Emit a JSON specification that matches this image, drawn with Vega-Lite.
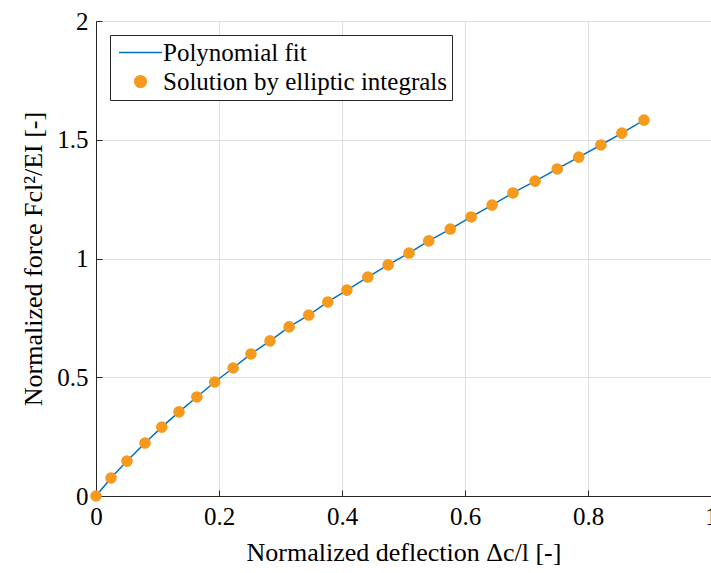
{
  "$schema": "https://vega.github.io/schema/vega-lite/v6.json",
  "width": 615,
  "height": 475,
  "autosize": {"type": "none"},
  "padding": {"left": 96, "top": 21, "right": 0, "bottom": 77},
  "background": "white",
  "config": {
    "view": {"stroke": null},
    "font": "Liberation Serif",
    "axis": {
      "gridColor": "#dedede",
      "gridWidth": 1,
      "domainColor": "#262626",
      "domainWidth": 1,
      "tickColor": "#262626",
      "tickSize": -6,
      "labelColor": "#000000",
      "titleColor": "#000000",
      "labelFont": "Liberation Serif",
      "titleFont": "Liberation Serif",
      "labelFontSize": 25,
      "titleFontSize": 26,
      "titleFontWeight": "normal",
      "labelOverlap": false,
      "labelFlush": false,
      "labelBound": false
    },
    "legend": {
      "orient": "top-left",
      "offset": 14,
      "strokeColor": "#262626",
      "fillColor": "white",
      "padding": 5,
      "labelFont": "Liberation Serif",
      "labelFontSize": 25,
      "labelColor": "#000000",
      "labelLimit": 500,
      "rowPadding": 3,
      "labelOffset": 10,
      "symbolOffset": 13,
      "symbolSize": 135,
      "symbolStrokeWidth": 1.5,
      "symbolOpacity": 1
    }
  },
  "datasets": {
    "fit": [
      {"x": 0, "y": 0, "series": "Polynomial fit"},
      {"x": 0.0244, "y": 0.0758, "series": "Polynomial fit"},
      {"x": 0.0504, "y": 0.147, "series": "Polynomial fit"},
      {"x": 0.0797, "y": 0.223, "series": "Polynomial fit"},
      {"x": 0.107, "y": 0.29, "series": "Polynomial fit"},
      {"x": 0.135, "y": 0.354, "series": "Polynomial fit"},
      {"x": 0.164, "y": 0.417, "series": "Polynomial fit"},
      {"x": 0.193, "y": 0.48, "series": "Polynomial fit"},
      {"x": 0.223, "y": 0.539, "series": "Polynomial fit"},
      {"x": 0.252, "y": 0.598, "series": "Polynomial fit"},
      {"x": 0.283, "y": 0.653, "series": "Polynomial fit"},
      {"x": 0.314, "y": 0.712, "series": "Polynomial fit"},
      {"x": 0.346, "y": 0.762, "series": "Polynomial fit"},
      {"x": 0.377, "y": 0.817, "series": "Polynomial fit"},
      {"x": 0.408, "y": 0.867, "series": "Polynomial fit"},
      {"x": 0.442, "y": 0.922, "series": "Polynomial fit"},
      {"x": 0.475, "y": 0.973, "series": "Polynomial fit"},
      {"x": 0.509, "y": 1.023, "series": "Polynomial fit"},
      {"x": 0.541, "y": 1.074, "series": "Polynomial fit"},
      {"x": 0.576, "y": 1.124, "series": "Polynomial fit"},
      {"x": 0.61, "y": 1.175, "series": "Polynomial fit"},
      {"x": 0.644, "y": 1.225, "series": "Polynomial fit"},
      {"x": 0.678, "y": 1.276, "series": "Polynomial fit"},
      {"x": 0.714, "y": 1.326, "series": "Polynomial fit"},
      {"x": 0.75, "y": 1.377, "series": "Polynomial fit"},
      {"x": 0.785, "y": 1.427, "series": "Polynomial fit"},
      {"x": 0.821, "y": 1.478, "series": "Polynomial fit"},
      {"x": 0.855, "y": 1.528, "series": "Polynomial fit"},
      {"x": 0.891, "y": 1.583, "series": "Polynomial fit"},
      {"x": 0.897, "y": 1.592, "series": "Polynomial fit"}
    ],
    "pts": [
      {"x": 0, "y": 0, "series": "Solution by elliptic integrals"},
      {"x": 0.0244, "y": 0.0758, "series": "Solution by elliptic integrals"},
      {"x": 0.0504, "y": 0.147, "series": "Solution by elliptic integrals"},
      {"x": 0.0797, "y": 0.223, "series": "Solution by elliptic integrals"},
      {"x": 0.107, "y": 0.29, "series": "Solution by elliptic integrals"},
      {"x": 0.135, "y": 0.354, "series": "Solution by elliptic integrals"},
      {"x": 0.164, "y": 0.417, "series": "Solution by elliptic integrals"},
      {"x": 0.193, "y": 0.48, "series": "Solution by elliptic integrals"},
      {"x": 0.223, "y": 0.539, "series": "Solution by elliptic integrals"},
      {"x": 0.252, "y": 0.598, "series": "Solution by elliptic integrals"},
      {"x": 0.283, "y": 0.653, "series": "Solution by elliptic integrals"},
      {"x": 0.314, "y": 0.712, "series": "Solution by elliptic integrals"},
      {"x": 0.346, "y": 0.762, "series": "Solution by elliptic integrals"},
      {"x": 0.377, "y": 0.817, "series": "Solution by elliptic integrals"},
      {"x": 0.408, "y": 0.867, "series": "Solution by elliptic integrals"},
      {"x": 0.442, "y": 0.922, "series": "Solution by elliptic integrals"},
      {"x": 0.475, "y": 0.973, "series": "Solution by elliptic integrals"},
      {"x": 0.509, "y": 1.023, "series": "Solution by elliptic integrals"},
      {"x": 0.541, "y": 1.074, "series": "Solution by elliptic integrals"},
      {"x": 0.576, "y": 1.124, "series": "Solution by elliptic integrals"},
      {"x": 0.61, "y": 1.175, "series": "Solution by elliptic integrals"},
      {"x": 0.644, "y": 1.225, "series": "Solution by elliptic integrals"},
      {"x": 0.678, "y": 1.276, "series": "Solution by elliptic integrals"},
      {"x": 0.714, "y": 1.326, "series": "Solution by elliptic integrals"},
      {"x": 0.75, "y": 1.377, "series": "Solution by elliptic integrals"},
      {"x": 0.785, "y": 1.427, "series": "Solution by elliptic integrals"},
      {"x": 0.821, "y": 1.478, "series": "Solution by elliptic integrals"},
      {"x": 0.855, "y": 1.528, "series": "Solution by elliptic integrals"},
      {"x": 0.891, "y": 1.583, "series": "Solution by elliptic integrals"}
    ]
  },
  "encoding": {
    "x": {
      "field": "x", "type": "quantitative",
      "scale": {"domain": [0, 1], "nice": false, "zero": false},
      "axis": {"values": [0, 0.2, 0.4, 0.6, 0.8, 1], "title": "Normalized deflection Δc/l [-]", "titlePadding": 10, "labelPadding": 14, "format": "~g"}
    },
    "y": {
      "field": "y", "type": "quantitative",
      "scale": {"domain": [0, 2], "nice": false, "zero": false},
      "axis": {"values": [0, 0.5, 1, 1.5, 2], "title": "Normalized force Fcl²/EI [-]", "titlePadding": 10, "labelPadding": 14, "format": "~g"}
    },
    "color": {
      "field": "series", "type": "nominal",
      "scale": {"domain": ["Polynomial fit", "Solution by elliptic integrals"], "range": ["#0072bd", "#f59a1c"]},
      "legend": {
        "title": null,
        "labelFont": "Liberation Serif",
        "labelFontSize": 25,
        "encode": {
          "labels": {"update": {"font": {"value": "Liberation Serif"}}},
          "symbols": {"update": {"size": {"signal": "datum.value === 'Polynomial fit' ? 1850 : 135"}}}
        }
      }
    }
  },
  "layer": [
    {"data": {"name": "fit"}, "mark": {"type": "line", "strokeWidth": 1.5, "clip": true}},
    {
      "data": {"name": "pts"},
      "mark": {"type": "point", "filled": true, "opacity": 1, "size": 135},
      "encoding": {
        "shape": {"field": "series", "type": "nominal", "scale": {"domain": ["Polynomial fit", "Solution by elliptic integrals"], "range": ["stroke", "circle"]}, "legend": {"title": null, "labelFont": "Liberation Serif", "labelFontSize": 25}}
      }
    }
  ]
}
